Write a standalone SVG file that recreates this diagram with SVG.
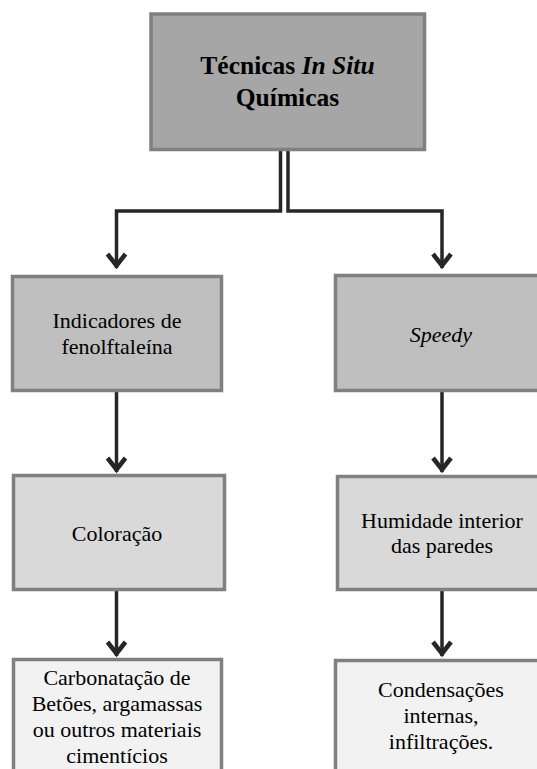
<svg xmlns="http://www.w3.org/2000/svg" width="537" height="769" viewBox="0 0 537 769">
<style>
.box{stroke:#808080;stroke-width:3.5}
.l0{fill:#a6a6a6}
.l1{fill:#bfbfbf}
.l2{fill:#d9d9d9}
.l3{fill:#f2f2f2}
.t{font-family:'Liberation Serif','Times New Roman',serif;font-size:22px;fill:#000;text-anchor:middle}
.title{font-size:25.5px;font-weight:bold}
.conn{fill:none;stroke:#262626;stroke-width:3.5}
</style>
<defs>
<marker id="arr" markerUnits="userSpaceOnUse" markerWidth="30" markerHeight="30" refX="0" refY="0" orient="auto" overflow="visible">
<path d="M-14,-9 L-2.5,0 L-14,9" fill="none" stroke="#262626" stroke-width="4.5" stroke-linejoin="miter"/>
</marker>
</defs>
<rect width="537" height="769" fill="#fff"/>
<g id="connectors">
<path class="conn" d="M280.5,150 V211 H116.5 V268" marker-end="url(#arr)"/>
<path class="conn" d="M288,150 V211 H442 V268" marker-end="url(#arr)"/>
<path class="conn" d="M116.5,391 V472" marker-end="url(#arr)"/>
<path class="conn" d="M116.5,590 V656" marker-end="url(#arr)"/>
<path class="conn" d="M442,391 V472" marker-end="url(#arr)"/>
<path class="conn" d="M442,590 V656" marker-end="url(#arr)"/>
</g>
<g id="n-tecnicas">
<rect class="box l0" x="151" y="14" width="273.5" height="135.5"/>
<text class="t title" x="287.5" y="74">Técnicas <tspan font-style="italic">In Situ</tspan></text>
<text class="t title" x="287.5" y="106">Químicas</text>
</g>
<g id="n-indicadores">
<rect class="box l1" x="12.5" y="276.5" width="209" height="114"/>
<text class="t" x="117" y="328">Indicadores de</text>
<text class="t" x="117" y="354">fenolftaleína</text>
</g>
<g id="n-speedy">
<rect class="box l1" x="335.5" y="275.5" width="220" height="115"/>
<text class="t" x="441" y="342" font-style="italic">Speedy</text>
</g>
<g id="n-coloracao">
<rect class="box l2" x="13.5" y="475.5" width="211" height="114"/>
<text class="t" x="117" y="541">Coloração</text>
</g>
<g id="n-humidade">
<rect class="box l2" x="337.5" y="476.5" width="220" height="113"/>
<text class="t" x="442" y="528">Humidade interior</text>
<text class="t" x="442" y="553">das paredes</text>
</g>
<g id="n-carbonatacao">
<rect class="box l3" x="13.5" y="659.5" width="208" height="130"/>
<text class="t" x="117" y="685">Carbonatação de</text>
<text class="t" x="117" y="711">Betões, argamassas</text>
<text class="t" x="117" y="737">ou outros materiais</text>
<text class="t" x="117" y="763">cimentícios</text>
</g>
<g id="n-condensacoes">
<rect class="box l3" x="335.5" y="660.5" width="220" height="130"/>
<text class="t" x="441" y="697">Condensações</text>
<text class="t" x="441" y="723">internas,</text>
<text class="t" x="441" y="749">infiltrações.</text>
</g>
</svg>
